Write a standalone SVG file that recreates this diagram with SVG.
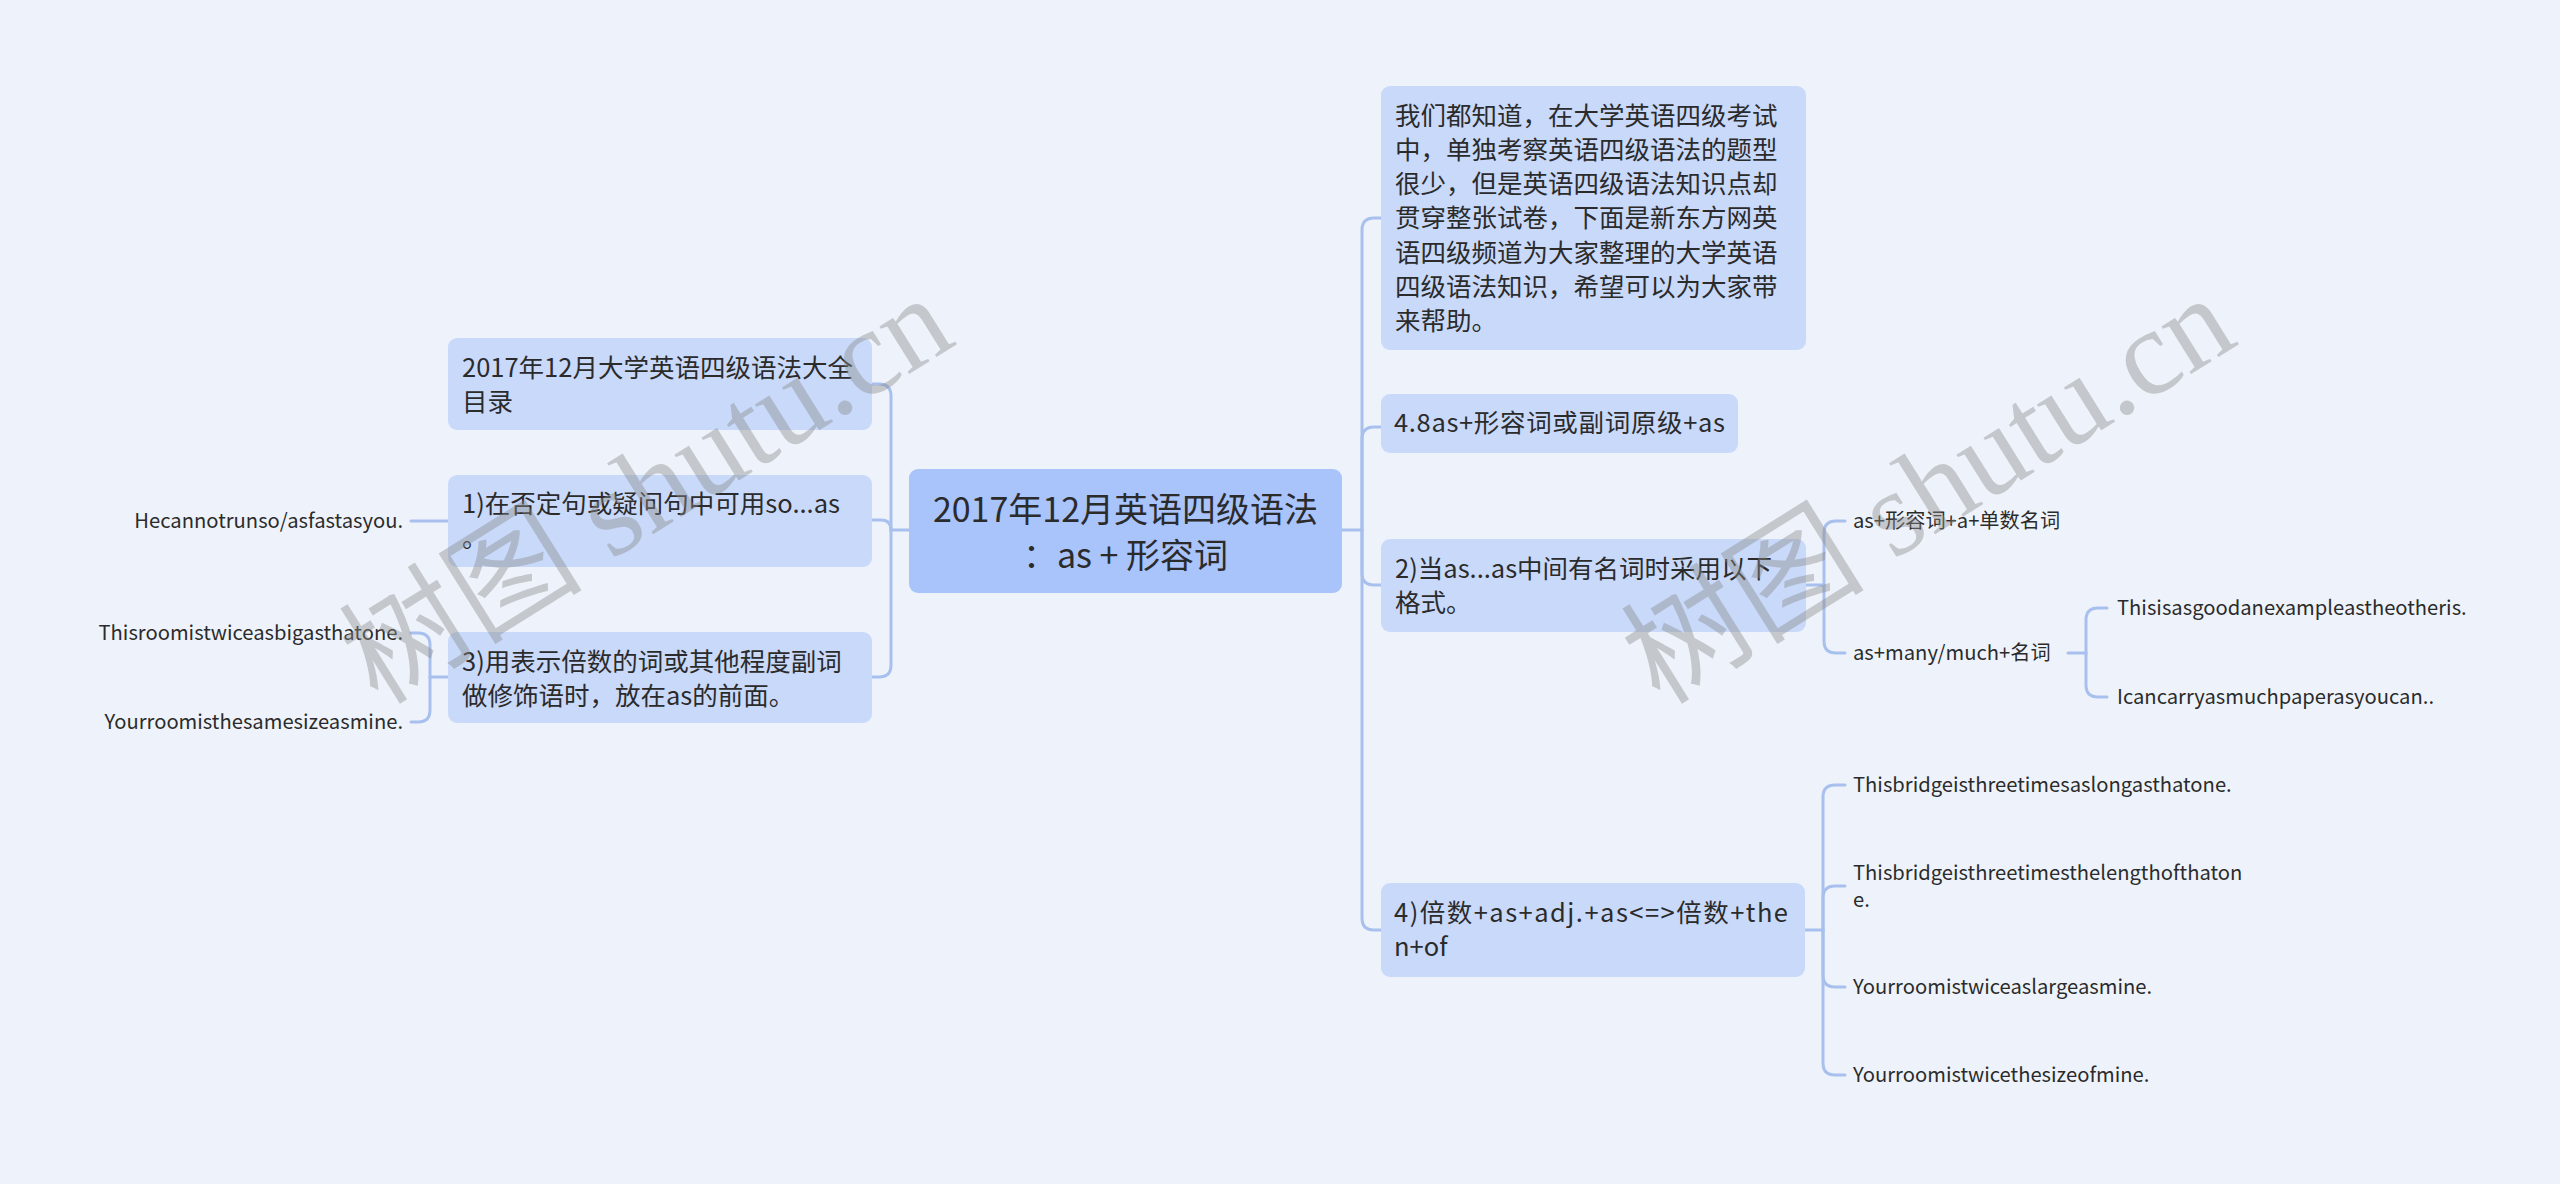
<svg xmlns="http://www.w3.org/2000/svg" width="2560" height="1184" viewBox="0 0 2560 1184">
<style>
.bg{fill:#eef3fb}
.node rect{fill:#c9d9fa}
#root rect{fill:#a9c3fb}
.t{font-family:"Noto Sans CJK SC","Liberation Sans",sans-serif;fill:#2b2b2b}
.nt{font-size:25.5px}
.rt{font-size:34px}
.lt{font-size:20.2px}
.conn path{fill:none;stroke:#a8c0ee;stroke-width:3;stroke-linecap:round}
.wm{font-family:"Liberation Serif","Noto Sans CJK SC",serif;font-size:122px;fill:#8a8a8a;fill-opacity:0.42}
</style>
<rect class="bg" x="0" y="0" width="2560" height="1184"/>

<g class="conn" id="connectors">
<path d="M1342,530 H1362 V230 Q1362,218 1374,218 H1381"/>
<path d="M1362,530 V439 Q1362,427 1374,427 H1381"/>
<path d="M1362,530 V573 Q1362,585 1374,585 H1381"/>
<path d="M1362,530 V918 Q1362,930 1374,930 H1381"/>
<path d="M909,530 H891 V396 Q891,384 879,384 H872"/>
<path d="M891,530 Q891,520 881,520 H872"/>
<path d="M891,530 V665 Q891,677 879,677 H872"/>
<path d="M448,521 H411"/>
<path d="M448,677 H430 V645 Q430,633 418,633 H411"/>
<path d="M430,677 V710 Q430,722 418,722 H411"/>
<path d="M1806,585 H1824 V533 Q1824,521 1836,521 H1845"/>
<path d="M1824,585 V641 Q1824,653 1836,653 H1845"/>
<path d="M2068,653 H2086 V620 Q2086,608 2098,608 H2107"/>
<path d="M2086,653 V685 Q2086,697 2098,697 H2107"/>
<path d="M1805,930 H1823 V797 Q1823,785 1835,785 H1845"/>
<path d="M1823,930 V898 Q1823,886 1835,886 H1845"/>
<path d="M1823,930 V975 Q1823,987 1835,987 H1845"/>
<path d="M1823,930 V1063 Q1823,1075 1835,1075 H1845"/>
</g>

<g id="root" class="node">
<rect x="909" y="469" width="433" height="124" rx="9"/>
<text class="t rt" x="1125.5" y="522" text-anchor="middle">2017年12月英语四级语法</text>
<text class="t rt" x="1125.5" y="568" text-anchor="middle">：as + 形容词</text>
</g>

<g id="n-intro" class="node">
<rect x="1381" y="86" width="425" height="264" rx="9"/>
<text class="t nt" x="1395" y="125">我们都知道，在大学英语四级考试</text>
<text class="t nt" x="1395" y="159">中，单独考察英语四级语法的题型</text>
<text class="t nt" x="1395" y="193">很少，但是英语四级语法知识点却</text>
<text class="t nt" x="1395" y="227">贯穿整张试卷，下面是新东方网英</text>
<text class="t nt" x="1395" y="262">语四级频道为大家整理的大学英语</text>
<text class="t nt" x="1395" y="296">四级语法知识，希望可以为大家带</text>
<text class="t nt" x="1395" y="330">来帮助。</text>
</g>

<g id="n-48" class="node">
<rect x="1381" y="394" width="357" height="59" rx="9"/>
<text class="t nt" x="1394" y="432" textLength="331" lengthAdjust="spacing">4.8as+形容词或副词原级+as</text>
</g>

<g id="n-2" class="node">
<rect x="1381" y="539" width="425" height="93" rx="9"/>
<text class="t nt" x="1395" y="578">2)当as...as中间有名词时采用以下</text>
<text class="t nt" x="1395" y="612">格式。</text>
</g>

<g id="n-4" class="node">
<rect x="1381" y="883" width="424" height="94" rx="9"/>
<text class="t nt" x="1394" y="922" textLength="394" lengthAdjust="spacing">4)倍数+as+adj.+as&lt;=&gt;倍数+the</text>
<text class="t nt" x="1394" y="956">n+of</text>
</g>

<g id="n-toc" class="node">
<rect x="448" y="338" width="424" height="92" rx="9"/>
<text class="t nt" x="462" y="377">2017年12月大学英语四级语法大全</text>
<text class="t nt" x="462" y="411">目录</text>
</g>

<g id="n-1" class="node">
<rect x="448" y="475" width="424" height="92" rx="9"/>
<text class="t nt" x="462" y="513">1)在否定句或疑问句中可用so...as</text>
<text class="t nt" x="462" y="547">。</text>
</g>

<g id="n-3" class="node">
<rect x="448" y="632" width="424" height="91" rx="9"/>
<text class="t nt" x="462" y="671">3)用表示倍数的词或其他程度副词</text>
<text class="t nt" x="462" y="705">做修饰语时，放在as的前面。</text>
</g>

<g id="leaf-l1"><text class="t lt" x="403" y="528" text-anchor="end">Hecannotrunso/asfastasyou.</text></g>
<g id="leaf-l2"><text class="t lt" x="403" y="640" text-anchor="end">Thisroomistwiceasbigasthatone.</text></g>
<g id="leaf-l3"><text class="t lt" x="403" y="729" text-anchor="end">Yourroomisthesamesizeasmine.</text></g>

<g id="leaf-c1"><text class="t lt" x="1853" y="528">as+形容词+a+单数名词</text></g>
<g id="leaf-c2"><text class="t lt" x="1853" y="660">as+many/much+名词</text></g>
<g id="leaf-c21"><text class="t lt" x="2117" y="615">Thisisasgoodanexampleastheotheris.</text></g>
<g id="leaf-c22"><text class="t lt" x="2117" y="704">Icancarryasmuchpaperasyoucan..</text></g>

<g id="leaf-d1"><text class="t lt" x="1853" y="792">Thisbridgeisthreetimesaslongasthatone.</text></g>
<g id="leaf-d2"><text class="t lt" x="1853" y="880">Thisbridgeisthreetimesthelengthofthaton</text><text class="t lt" x="1853" y="907">e.</text></g>
<g id="leaf-d3"><text class="t lt" x="1853" y="994">Yourroomistwiceaslargeasmine.</text></g>
<g id="leaf-d4"><text class="t lt" x="1853" y="1082">Yourroomistwicethesizeofmine.</text></g>

<g id="watermarks">
<text class="wm" transform="translate(378,706) rotate(-32)">树图 shutu.cn</text>
<text class="wm" transform="translate(1660,706) rotate(-32)">树图 shutu.cn</text>
</g>
</svg>
